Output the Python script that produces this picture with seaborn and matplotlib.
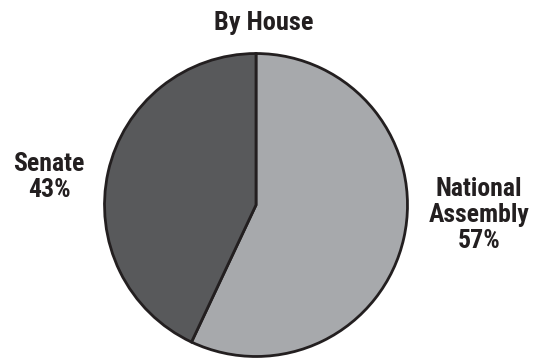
import matplotlib
matplotlib.use("Agg")
import matplotlib.pyplot as plt
import seaborn as sns

sns.set_theme(style="white")
plt.rcParams['font.family'] = ['Roboto Condensed', 'DejaVu Sans']
plt.rcParams['font.stretch'] = 'condensed'

title = "By House"
categories = ["National\nAssembly", "Senate"]
values = [57, 43]
colors = ["#a7a9ac", "#58595b"]

W, H = 544, 358
fig = plt.figure(figsize=(W / 100, H / 100), dpi=100)
fig.patch.set_facecolor("white")
ax = fig.add_axes([103 / W, 0 / H, 306 / W, 306 / H])
ax.pie(values, colors=colors, startangle=90, counterclock=False,
       wedgeprops=dict(edgecolor="#231f20", linewidth=2.0), radius=1.0)
ax.set_xlim(-1.01, 1.01)
ax.set_ylim(-1.01, 1.01)
ax.set_aspect("equal")
ax.axis("off")

fig.text(264 / W, 1 - 23 / H, title, ha="center", va="center",
         fontsize=19, fontweight="bold", color="#231f20", fontstretch="condensed")

label_pos = [(479, 215), (49, 177)]
for cat, val, (px, py) in zip(categories, values, label_pos):
    fig.text(px / W, 1 - py / H, f"{cat}\n{val}%", ha="center", va="center",
             fontsize=18.5, fontweight="bold", color="#231f20", linespacing=1.1,
             multialignment="center", fontstretch="condensed")

fig.savefig("out.png", dpi=100, facecolor="white")
